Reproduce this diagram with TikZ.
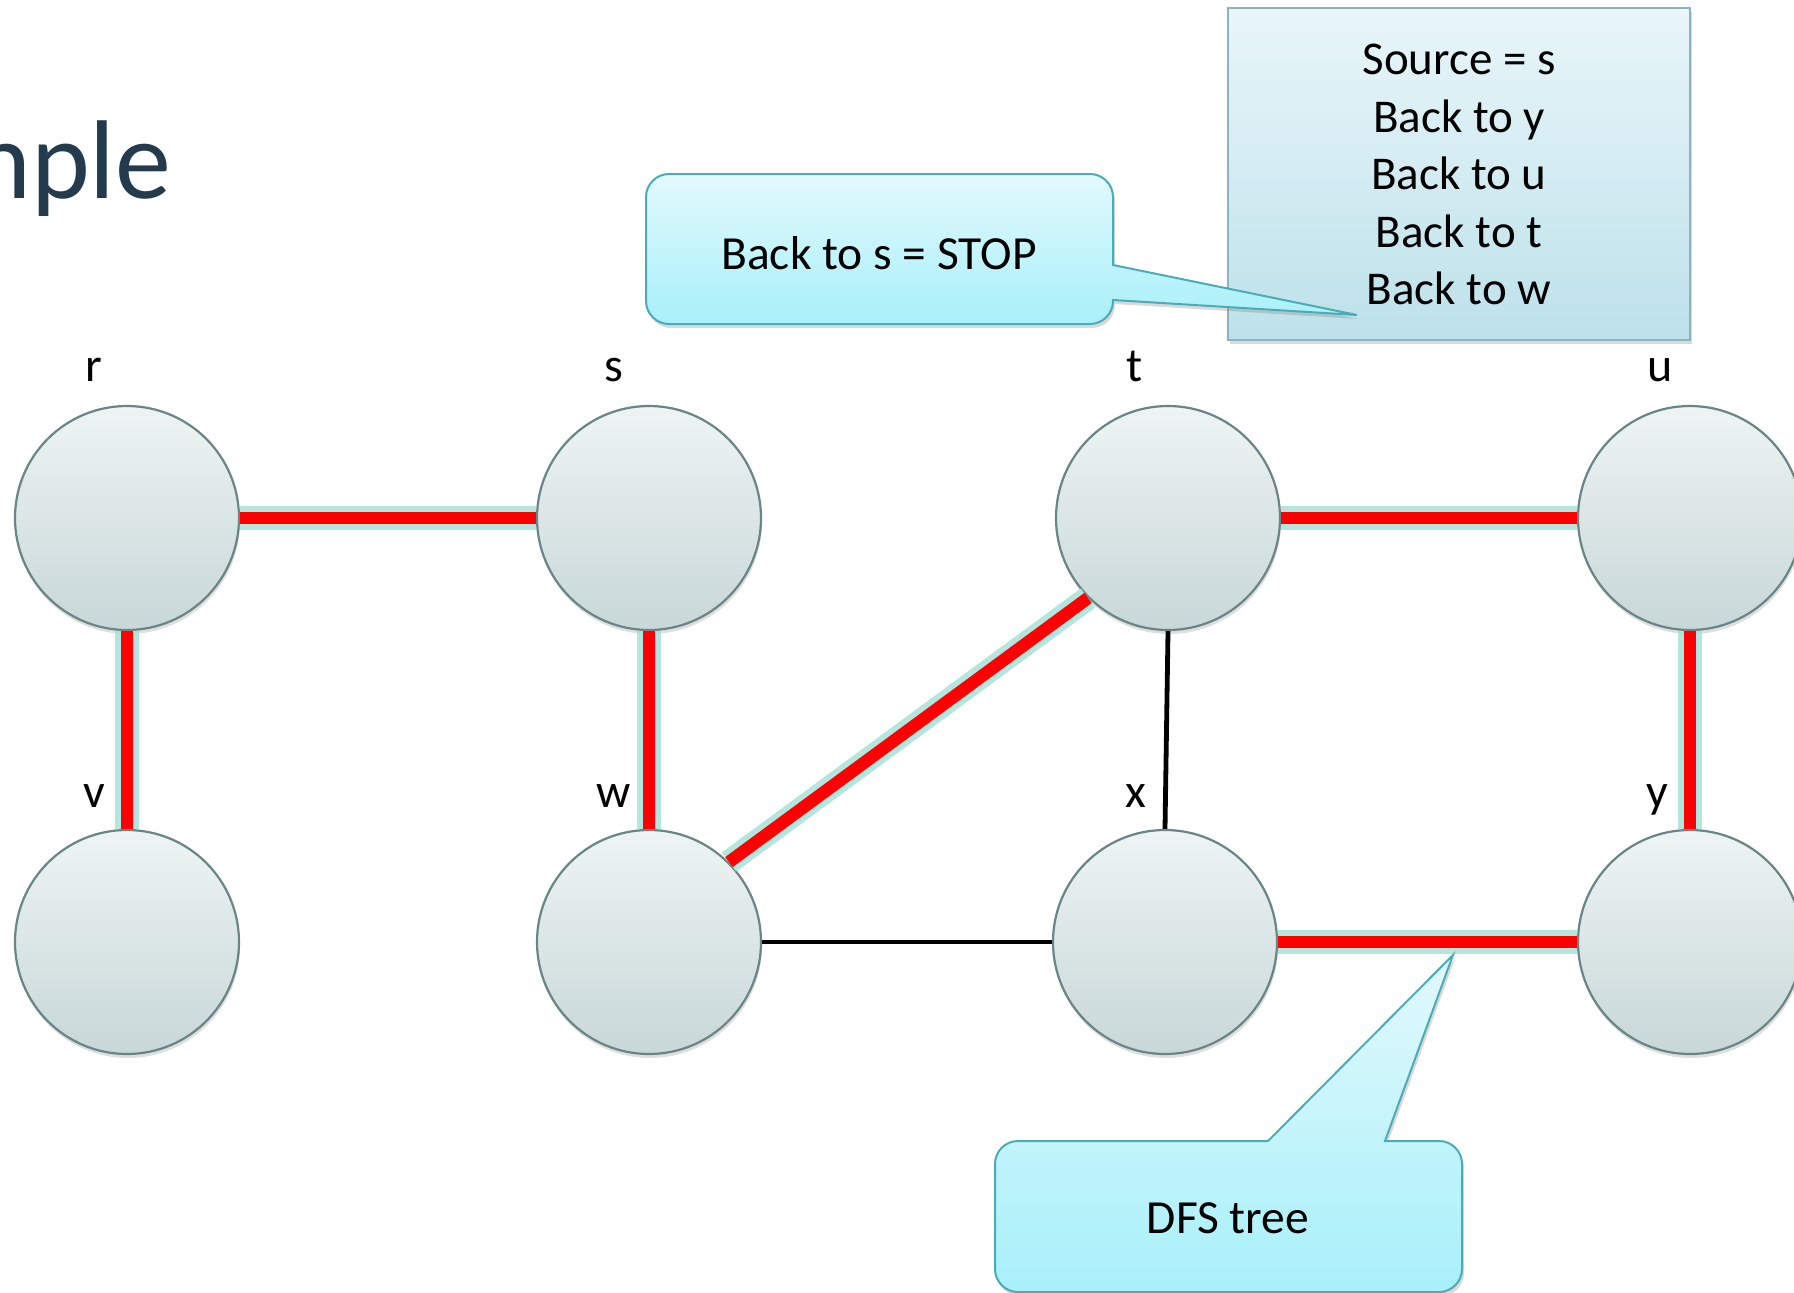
\documentclass[tikz,border=0pt]{standalone}
\usepackage{fontspec}
\setmainfont{Carlito}
\usetikzlibrary{shadows}
\definecolor{circbd}{HTML}{6A8585}
\definecolor{circtop}{HTML}{EEF4F4}
\definecolor{circbot}{HTML}{C8D7D8}
\definecolor{callbd}{HTML}{4BACB8}
\definecolor{calltop}{HTML}{E2F9FC}
\definecolor{callbot}{HTML}{A8F0FA}
\definecolor{srcbd}{HTML}{8DB3C0}
\definecolor{srctop}{HTML}{E9F6FA}
\definecolor{srcbot}{HTML}{BDE1EA}
\definecolor{glowc}{HTML}{A6E2D8}
\definecolor{titlec}{HTML}{243A4D}
\tikzset{
  vertex/.style={circle, draw=circbd, line width=2.2pt, minimum size=224pt, inner sep=0pt,
    top color=circtop, bottom color=circbot,
    drop shadow={opacity=0.25, shadow xshift=1pt, shadow yshift=-4pt}},
  vlabel/.style={anchor=base, font=\fontsize{48}{57}\selectfont, text=black},
  treeedge/.style={draw=red, line width=12.5pt, preaction={draw=glowc, line width=24pt, opacity=0.85}},
  plainedge/.style={draw=black, line width=4.8pt},
  calloutshape/.style={draw=callbd, line width=2pt, top color=calltop, bottom color=callbot,
    drop shadow={opacity=0.3, shadow xshift=2pt, shadow yshift=-4pt}},
  callouttext/.style={anchor=base, font=\fontsize{47.5}{57}\selectfont, text=black},
}
\begin{document}
\begin{tikzpicture}[x=1pt, y=-1pt]
\useasboundingbox (0,0) rectangle (1794,1293);
% title fragment
\node[anchor=base west, inner sep=0pt, font=\fontsize{112}{130}\selectfont, text=titlec] (title) at (-28,198) {nple};
% source box
\node[draw=srcbd, line width=2pt, top color=srctop, bottom color=srcbot,
  minimum width=462pt, minimum height=332pt, inner sep=0pt,
  drop shadow={opacity=0.3, shadow xshift=2pt, shadow yshift=-4pt}] (srcbox) at (1459,174) {};
\node[align=center, font=\fontsize{47}{57.5}\selectfont, anchor=north, inner sep=0pt] (srctext) at (1459,44)
  {Source = s\\Back to y\\Back to u\\Back to t\\Back to w};
% vertices
\node[vertex] (r) at (127,518) {};
\node[vertex] (s) at (649,518) {};
\node[vertex] (t) at (1168,518) {};
\node[vertex] (u) at (1690,518) {};
\node[vertex] (v) at (127,942) {};
\node[vertex] (w) at (649,942) {};
\node[vertex] (x) at (1165,942) {};
\node[vertex] (y) at (1690,942) {};
% labels
\node[vlabel] (lr) at (94,381) {r};
\node[vlabel] (ls) at (614,381) {s};
\node[vlabel] (lt) at (1135,381) {t};
\node[vlabel] (lu) at (1660,381) {u};
\node[vlabel] (lv) at (94,807) {v};
\node[vlabel] (lw) at (614,807) {w};
\node[vlabel] (lx) at (1136,807) {x};
\node[vlabel] (ly) at (1657,807) {y};
% edges
\draw[plainedge] (w.east) -- (x.west);
\draw[plainedge] (t.south) -- (x.north);
\draw[treeedge] (r.east) -- (s.west);
\draw[treeedge] (r.south) -- (v.north);
\draw[treeedge] (s.south) -- (w.north);
\draw[treeedge] (w.45) -- (t.225);
\draw[treeedge] (t.east) -- (u.west);
\draw[treeedge] (u.south) -- (y.north);
\draw[treeedge] (x.east) -- (y.west);
% callout 1
\coordinate (tip1) at (1357,315);
\path[calloutshape] (tip1) -- (1113,300) [rounded corners=23pt] -- (1113,324) -- (646,324) -- (646,174) -- (1113,174) [sharp corners] -- (1113,265) -- cycle;
\node[callouttext] (c1text) at (879,269) {Back to s = STOP};
% callout 2
\coordinate (tip2) at (1453,955);
\path[calloutshape] (tip2) -- (1268,1141) [rounded corners=23pt] -- (995,1141) -- (995,1292) -- (1462,1292) -- (1462,1141) [sharp corners] -- (1385,1141) -- cycle;
\node[callouttext] (c2text) at (1228,1233) {DFS tree};
\end{tikzpicture}
\end{document}
